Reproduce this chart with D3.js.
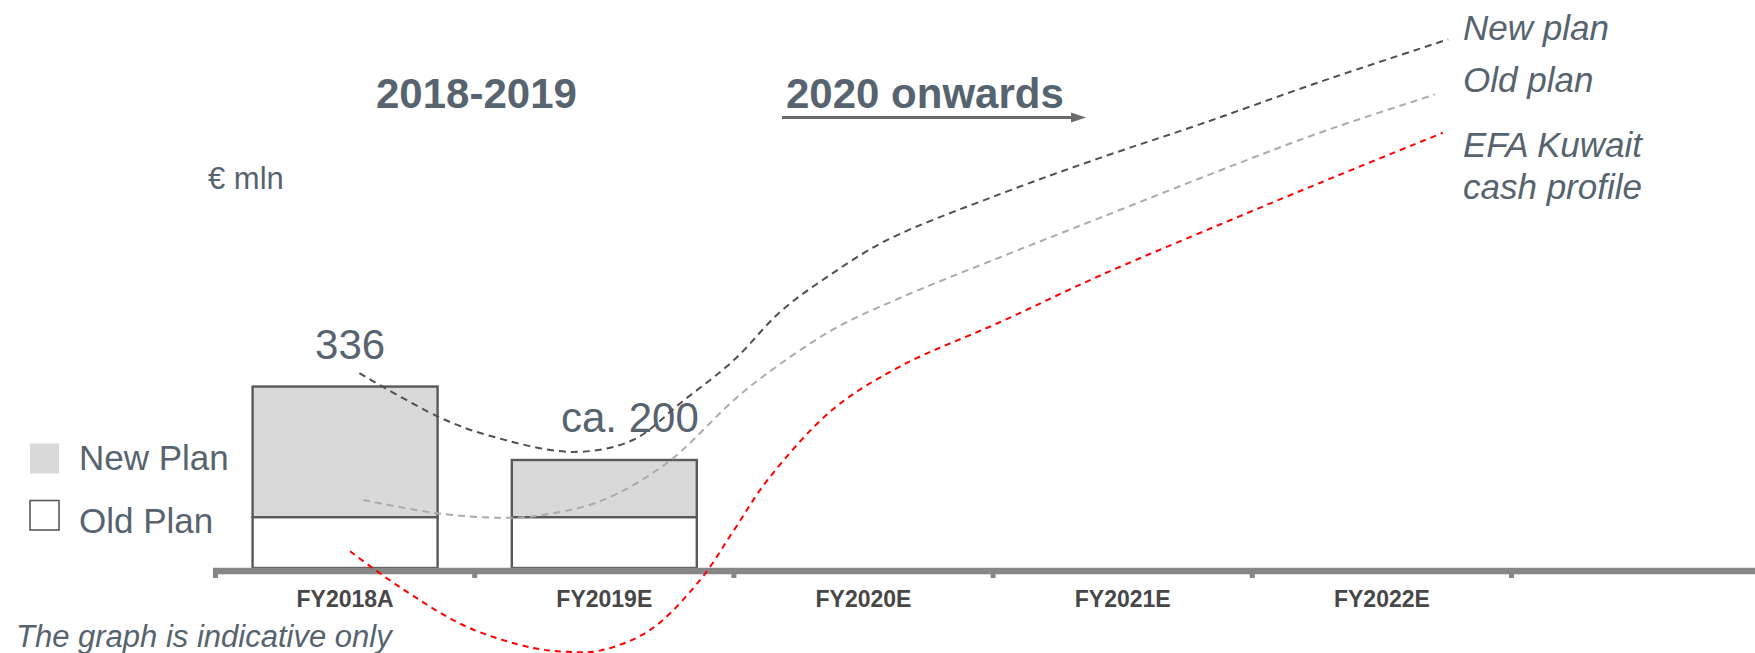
<!DOCTYPE html>
<html>
<head>
<meta charset="utf-8">
<script src="https://cdn.jsdelivr.net/npm/d3@7"></script>
<style>
  html, body { margin: 0; padding: 0; background: #ffffff; }
  svg { display: block; font-family: "Liberation Sans", Arial, sans-serif; }
</style>
</head>
<body>
<svg id="chart" width="1755" height="653"></svg>
<script>
// Fiscal years on the horizontal axis
const categories = ["FY2018A", "FY2019E", "FY2020E", "FY2021E", "FY2022E"];

// Stacked bars (€ mln): old-plan base and new-plan total
const barYears = ["FY2018A", "FY2019E"];
const oldPlanValues = [94, 94];
const newPlanTotals = [336, 200];
const barLabels = ["336", "ca. 200"];

// Indicative cash profiles: [year index (0 = start of FY2018A), € mln]
const newPlanCurve = [
  [0.555, 361], [0.86, 280], [1.05, 246], [1.38, 215], [1.61, 237],
  [1.80, 308], [2.00, 385], [2.18, 475], [2.36, 539], [2.59, 607],
  [3.03, 693], [3.41, 759], [3.80, 822], [4.26, 900], [4.756, 979]
];
const oldPlanCurve = [
  [0.57, 126], [0.86, 101], [1.10, 93], [1.23, 96], [1.48, 123],
  [1.74, 194], [2.00, 311], [2.13, 361], [2.38, 441], [2.64, 500],
  [3.03, 576], [3.41, 648], [3.88, 737], [4.26, 806], [4.705, 877]
];
const kuwaitCurve = [
  [0.519, 31], [0.71, -35], [0.97, -109], [1.225, -148], [1.356, -155],
  [1.483, -153], [1.676, -115], [1.87, -22], [2.00, 70], [2.13, 163],
  [2.38, 293], [2.64, 373], [3.03, 456], [3.41, 541], [3.88, 637],
  [4.26, 713], [4.735, 806]
];

const legendLabels = ["New Plan", "Old Plan"];
const curveLabels = [["New plan"], ["Old plan"], ["EFA Kuwait", "cash profile"]];
const periodTitles = ["2018-2019", "2020 onwards"];
const unitLabel = "€ mln";
const footnote = "The graph is indicative only";

const svg = d3.select("#chart");
const W = 1755;
const textColor = "#57646f";

// Scales
const x = d3.scaleBand().domain(categories).range([215.5, 1511.5]).padding(0);
const xPos = d3.scaleLinear().domain([0, categories.length]).range([215.5, 1511.5]);
const y = d3.scaleLinear().domain([0, 1000]).range([568, 28]);

// Period headings
svg.append("text").attr("x", 376).attr("y", 108)
  .attr("font-size", 42).attr("font-weight", "bold").attr("fill", textColor)
  .text(periodTitles[0]);
svg.append("text").attr("x", 786).attr("y", 108)
  .attr("font-size", 42).attr("font-weight", "bold").attr("fill", textColor)
  .text(periodTitles[1]);

// Arrow under "2020 onwards"
svg.append("line").attr("x1", 782).attr("x2", 1072).attr("y1", 117.5).attr("y2", 117.5)
  .attr("stroke", "#6b6b6b").attr("stroke-width", 3);
svg.append("path").attr("d", "M1071,112.5 L1086,117.5 L1071,122.5 Z").attr("fill", "#6b6b6b");

// Unit
svg.append("text").attr("x", 208).attr("y", 189).attr("font-size", 31)
  .attr("fill", textColor).text(unitLabel);

// Legend
const legend = svg.append("g");
legend.append("rect").attr("x", 30).attr("y", 443.5).attr("width", 29).attr("height", 30)
  .attr("fill", "#d9d9d9");
legend.append("rect").attr("x", 30).attr("y", 500.5).attr("width", 29).attr("height", 29.5)
  .attr("fill", "#ffffff").attr("stroke", "#595959").attr("stroke-width", 1.6);
legend.append("text").attr("x", 79).attr("y", 470).attr("font-size", 35)
  .attr("fill", textColor).text(legendLabels[0]);
legend.append("text").attr("x", 79).attr("y", 533).attr("font-size", 35)
  .attr("fill", textColor).text(legendLabels[1]);

// Bars
const barW = 185;
const bars = svg.append("g");
barYears.forEach((c, i) => {
  const bx = x(c) + (x.bandwidth() - barW) / 2;
  bars.append("rect")
    .attr("x", bx).attr("y", y(newPlanTotals[i]))
    .attr("width", barW).attr("height", y(oldPlanValues[i]) - y(newPlanTotals[i]))
    .attr("fill", "#d9d9d9").attr("stroke", "#595959").attr("stroke-width", 2.4);
  bars.append("rect")
    .attr("x", bx).attr("y", y(oldPlanValues[i]))
    .attr("width", barW).attr("height", y(0) - y(oldPlanValues[i]))
    .attr("fill", "#ffffff").attr("stroke", "#595959").attr("stroke-width", 2.4);
  const lbl = bars.append("text")
    .attr("y", y(newPlanTotals[i]) - 28)
    .attr("font-size", 42).attr("fill", textColor).text(barLabels[i]);
  if (i === 0) {
    lbl.attr("x", bx + barW / 2 + 5).attr("text-anchor", "middle");
  } else {
    lbl.attr("x", bx + barW + 2).attr("text-anchor", "end");
  }
});

// Horizontal axis: thick band with small ticks at period boundaries
svg.append("line").attr("x1", 213).attr("x2", W).attr("y1", 571).attr("y2", 571)
  .attr("stroke", "#878787").attr("stroke-width", 6.5);
const boundaries = d3.range(categories.length + 1);
svg.append("g").selectAll("rect").data(boundaries).join("rect")
  .attr("x", d => xPos(d) - 2.5).attr("y", 571).attr("width", 5).attr("height", 7)
  .attr("fill", "#878787");

const axis = svg.append("g").attr("transform", "translate(0,568)")
  .call(d3.axisBottom(x).tickSize(0));
axis.select(".domain").remove();
axis.selectAll("text")
  .attr("y", 38.7).attr("dy", null)
  .attr("font-family", "'Liberation Sans', Arial, sans-serif")
  .attr("font-size", 23).attr("font-weight", "bold").attr("fill", "#474747");

// Footnote
svg.append("text").attr("x", 16).attr("y", 646.5).attr("font-size", 31)
  .attr("font-style", "italic").attr("fill", textColor).text(footnote);

// Dashed profiles
const line = d3.line()
  .x(d => xPos(d[0]))
  .y(d => y(d[1]))
  .curve(d3.curveCatmullRom.alpha(0.5));

const curves = [
  { pts: newPlanCurve, color: "#505050", dash: "7,5" },
  { pts: oldPlanCurve, color: "#ababab", dash: "7,5" },
  { pts: kuwaitCurve, color: "#ff0000", dash: "6,5" }
];
svg.append("g").selectAll("path").data(curves).join("path")
  .attr("d", d => line(d.pts))
  .attr("fill", "none")
  .attr("stroke", d => d.color)
  .attr("stroke-width", 2)
  .attr("stroke-dasharray", d => d.dash);

// Profile labels
const labelBaselines = [40, 92, 156.5];
curveLabels.forEach((lines, i) => {
  const t = svg.append("text").attr("x", 1463).attr("y", labelBaselines[i])
    .attr("font-size", 35).attr("font-style", "italic").attr("fill", textColor);
  lines.forEach((s, j) => {
    t.append("tspan").attr("x", 1463).attr("dy", j === 0 ? 0 : 42.5).text(s);
  });
});
</script>
</body>
</html>
